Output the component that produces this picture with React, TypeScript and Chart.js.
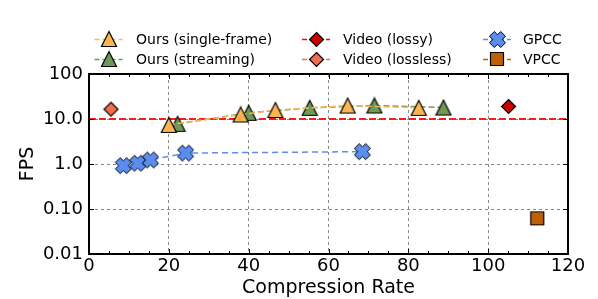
import React, { useEffect, useRef } from 'react';
import { Chart, registerables } from 'chart.js';

Chart.register(...registerables);

const FONT = "'DejaVu Sans', sans-serif";

// ---- data ----
const singleX = [20, 38, 46.7, 64.8, 82.6];
const singleY = [7.4, 12.6, 15.8, 19.9, 17.7];
const streamX = [22.2, 40, 55.3, 71.5, 88.8];
const streamY = [7.8, 13.7, 17.7, 20, 18];
const gpccX = [8.6, 12.2, 15.4, 24.2, 68.5];
const gpccY = [0.92, 1.04, 1.23, 1.75, 1.88];
const lossyX = [105.1];
const lossyY = [19];
const losslessX = [5.5];
const losslessY = [16.5];
const vpccX = [112.3];
const vpccY = [0.062];
const refX = [0, 120];
const refY = [10, 10];

const xTickValues = [0, 20, 40, 60, 80, 100, 120];
const yTickValues = [0.01, 0.1, 1, 10, 100];
const yTickLabels = ['0.01', '0.10', '1.0', '10.0', '100'];

const legendLabels = [
  'Ours (single-frame)',
  'Ours (streaming)',
  'Video (lossy)',
  'Video (lossless)',
  'GPCC',
  'VPCC',
];

// ---- colours ----
const C_ORANGE = '#FDB550';
const C_GREEN = '#6C9A54';
const C_LOSSY = '#CC0000';
const C_LOSSY_LINE = '#E01010';
const C_LOSSLESS = '#F46D4E';
const C_BLUE = '#5B8DEF';
const C_BROWN = '#BF6006';
const C_REF = '#FF1A1A';

function makeMarker(size: number, fill: string, path: (ctx: CanvasRenderingContext2D) => void, lw = 1.2) {
  const c = document.createElement('canvas');
  c.width = size + 3;
  c.height = size + 3;
  const ctx = c.getContext('2d')!;
  ctx.translate(c.width / 2, c.height / 2);
  ctx.beginPath();
  path(ctx);
  ctx.closePath();
  ctx.fillStyle = fill;
  ctx.fill();
  ctx.lineWidth = lw;
  ctx.strokeStyle = '#000';
  ctx.lineJoin = 'miter';
  ctx.stroke();
  return c;
}

const triPath = (h: number) => (ctx: CanvasRenderingContext2D) => {
  ctx.moveTo(0, -h);
  ctx.lineTo(h, h);
  ctx.lineTo(-h, h);
};
const diamondPath = (h: number) => (ctx: CanvasRenderingContext2D) => {
  ctx.moveTo(0, -h);
  ctx.lineTo(h, 0);
  ctx.lineTo(0, h);
  ctx.lineTo(-h, 0);
};
const squarePath = (h: number) => (ctx: CanvasRenderingContext2D) => {
  ctx.moveTo(-h, -h);
  ctx.lineTo(h, -h);
  ctx.lineTo(h, h);
  ctx.lineTo(-h, h);
};
const xPath = (half: number) => (ctx: CanvasRenderingContext2D) => {
  const a = 0.85;
  const pts = [
    [-a, -2], [-a, -a], [-2, -a], [-2, a], [-a, a], [-a, 2],
    [a, 2], [a, a], [2, a], [2, -a], [a, -a], [a, -2],
  ];
  const s = half / ((2 + a) / Math.SQRT2);
  pts.forEach(([x, y], i) => {
    const rx = ((x - y) / Math.SQRT2) * s;
    const ry = ((x + y) / Math.SQRT2) * s;
    if (i === 0) ctx.moveTo(rx, ry);
    else ctx.lineTo(rx, ry);
  });
};

export default function App() {
  const ref = useRef<HTMLCanvasElement | null>(null);

  useEffect(() => {
    const canvas = ref.current;
    if (!canvas) return;

    const mOrange = makeMarker(15, C_ORANGE, triPath(7.5));
    const mGreen = makeMarker(15, C_GREEN, triPath(7.5));
    const mLossy = makeMarker(14, C_LOSSY, diamondPath(7));
    const mLossless = makeMarker(14, C_LOSSLESS, diamondPath(7));
    const mBlue = makeMarker(16, C_BLUE, xPath(8), 1);
    const mBrown = makeMarker(13, C_BROWN, squarePath(6.5));

    const pts = (xs: number[], ys: number[]) => xs.map((x, i) => ({ x, y: ys[i] }));

    const legendItems = [
      { label: legendLabels[0], img: mOrange, color: C_ORANGE, col: 0, row: 0 },
      { label: legendLabels[1], img: mGreen, color: C_GREEN, col: 0, row: 1 },
      { label: legendLabels[2], img: mLossy, color: C_LOSSY_LINE, col: 1, row: 0 },
      { label: legendLabels[3], img: mLossless, color: C_LOSSLESS, col: 1, row: 1 },
      { label: legendLabels[4], img: mBlue, color: C_BLUE, col: 2, row: 0 },
      { label: legendLabels[5], img: mBrown, color: C_BROWN, col: 2, row: 1 },
    ];
    const colMarkerX = [108.5, 316, 497];
    const colTextX = [136, 343, 523];
    const rowY = [39, 59];

    const framePlugin = {
      id: 'frameAndLegend',
      afterDraw(chart: any) {
        const ctx = chart.ctx as CanvasRenderingContext2D;
        const { left, right, top, bottom } = chart.chartArea;
        const xs = chart.scales.x;
        const ys = chart.scales.y;
        ctx.save();
        // inward ticks
        ctx.strokeStyle = '#000';
        ctx.lineWidth = 1;
        ctx.setLineDash([]);
        for (let v = 0; v <= 120; v += 5) {
          const px = Math.round(xs.getPixelForValue(v)) + 0.5;
          const len = v % 20 === 0 ? 5 : 3;
          ctx.beginPath();
          ctx.moveTo(px, bottom);
          ctx.lineTo(px, bottom - len);
          ctx.moveTo(px, top);
          ctx.lineTo(px, top + len);
          ctx.stroke();
        }
        yTickValues.forEach((v) => {
          const py = Math.round(ys.getPixelForValue(v)) + 0.5;
          ctx.beginPath();
          ctx.moveTo(left, py);
          ctx.lineTo(left + 5, py);
          ctx.moveTo(right, py);
          ctx.lineTo(right - 5, py);
          ctx.stroke();
        });
        // frame
        ctx.lineWidth = 2;
        ctx.strokeRect(left, top, right - left, bottom - top);

        // legend
        ctx.font = `14px ${FONT}`;
        ctx.textBaseline = 'middle';
        ctx.textAlign = 'left';
        legendItems.forEach((it) => {
          const cx = colMarkerX[it.col];
          const cy = rowY[it.row];
          ctx.strokeStyle = it.color;
          ctx.lineWidth = 1.5;
          ctx.setLineDash([5, 3]);
          ctx.beginPath();
          ctx.moveTo(cx - 14, cy + 0.5);
          ctx.lineTo(cx + 14, cy + 0.5);
          ctx.stroke();
          ctx.setLineDash([]);
          ctx.drawImage(it.img, Math.round(cx - it.img.width / 2), Math.round(cy - it.img.height / 2));
          ctx.fillStyle = '#000';
          ctx.fillText(it.label, colTextX[it.col], cy + 1);
        });
        ctx.restore();
      },
    };

    const chart = new Chart(canvas, {
      type: 'scatter',
      data: {
        datasets: [
          {
            label: legendLabels[0],
            data: pts(singleX, singleY),
            showLine: true,
            borderColor: C_ORANGE,
            borderWidth: 1.5,
            borderDash: [6, 3],
            pointStyle: mOrange as any,
            backgroundColor: C_ORANGE,
          },
          {
            label: legendLabels[1],
            data: pts(streamX, streamY),
            showLine: true,
            borderColor: C_GREEN,
            borderWidth: 1.5,
            borderDash: [6, 3],
            pointStyle: mGreen as any,
            backgroundColor: C_GREEN,
          },
          {
            label: legendLabels[2],
            data: pts(lossyX, lossyY),
            showLine: false,
            pointStyle: mLossy as any,
          },
          {
            label: legendLabels[3],
            data: pts(losslessX, losslessY),
            showLine: false,
            pointStyle: mLossless as any,
          },
          {
            label: legendLabels[4],
            data: pts(gpccX, gpccY),
            showLine: true,
            borderColor: C_BLUE,
            borderWidth: 1.5,
            borderDash: [6, 4],
            pointStyle: mBlue as any,
          },
          {
            label: legendLabels[5],
            data: pts(vpccX, vpccY),
            showLine: false,
            pointStyle: mBrown as any,
          },
          {
            label: 'ref',
            data: pts(refX, refY),
            showLine: true,
            borderColor: C_REF,
            borderWidth: 2,
            borderDash: [7, 3],
            pointRadius: 0,
            pointHoverRadius: 0,
          },
        ],
      },
      options: {
        responsive: false,
        animation: false,
        devicePixelRatio: 1,
        layout: { padding: { left: 0, top: 74, right: 30, bottom: 0 } },
        plugins: {
          legend: { display: false },
          tooltip: { enabled: false },
        },
        scales: {
          x: {
            type: 'linear',
            min: 0,
            max: 120,
            afterBuildTicks: (scale: any) => {
              scale.ticks = xTickValues.map((v) => ({ value: v }));
            },
            afterFit: (scale: any) => {
              scale.height = 45;
            },
            ticks: {
              font: { family: FONT, size: 18 },
              color: '#000',
              padding: 2,
              maxRotation: 0,
              callback: (v: any) => String(v),
            },
            grid: { color: '#8a8a8a', lineWidth: 1, drawTicks: false },
            border: { display: false, dash: [3, 3] },
            title: {
              display: true,
              text: 'Compression Rate',
              font: { family: FONT, size: 19 },
              color: '#000',
              padding: { top: 0, bottom: 0 },
            },
          },
          y: {
            type: 'logarithmic',
            min: 0.01,
            max: 100,
            afterBuildTicks: (scale: any) => {
              scale.ticks = yTickValues.map((v) => ({ value: v }));
            },
            afterFit: (scale: any) => {
              scale.width = 89;
            },
            ticks: {
              font: { family: FONT, size: 18 },
              color: '#000',
              padding: 6,
              callback: (v: any) => {
                const i = yTickValues.findIndex((t) => Math.abs(t - v) < 1e-9);
                return i >= 0 ? yTickLabels[i] : '';
              },
            },
            grid: { color: '#8a8a8a', lineWidth: 1, drawTicks: false },
            border: { display: false, dash: [3, 3] },
            title: {
              display: true,
              text: 'FPS',
              font: { family: FONT, size: 19 },
              color: '#000',
              padding: { top: 17, bottom: 0 },
            },
          },
        },
      } as any,
      plugins: [framePlugin],
    });

    return () => chart.destroy();
  }, []);

  return (
    <div style={{ position: 'absolute', left: 0, top: 0, width: 598, height: 299, background: '#fff' }}>
      <canvas ref={ref} width={598} height={299} style={{ display: 'block' }} />
    </div>
  );
}
